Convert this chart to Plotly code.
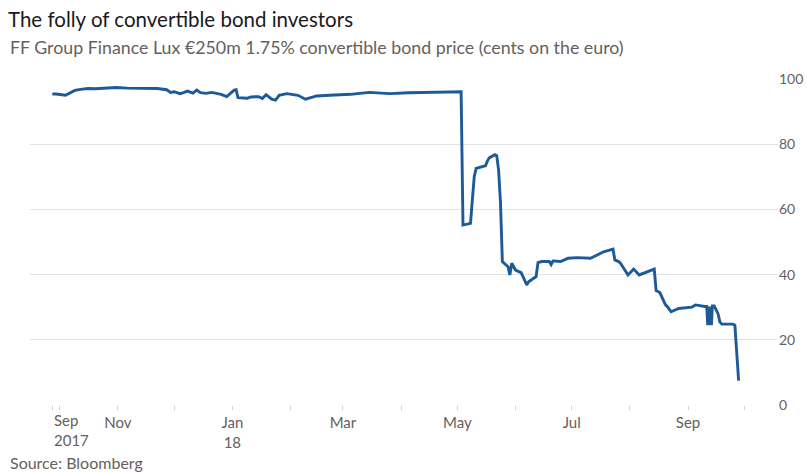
import plotly.graph_objects as go

# ---- data ----
dates = [
    "2017-09-27", "2017-09-29", "2017-10-04", "2017-10-09", "2017-10-12", "2017-10-16",
    "2017-10-20", "2017-10-26", "2017-10-31", "2017-11-06", "2017-11-13", "2017-11-17",
    "2017-11-22", "2017-11-27", "2017-11-29", "2017-12-01", "2017-12-04", "2017-12-06",
    "2017-12-08", "2017-12-11", "2017-12-13", "2017-12-15", "2017-12-18", "2017-12-21",
    "2017-12-26", "2017-12-29", "2018-01-02", "2018-01-03", "2018-01-04", "2018-01-09",
    "2018-01-11", "2018-01-15", "2018-01-17", "2018-01-19", "2018-01-22", "2018-01-24",
    "2018-01-26", "2018-01-30", "2018-02-05", "2018-02-09", "2018-02-15", "2018-02-22",
    "2018-03-05", "2018-03-15", "2018-03-26", "2018-04-05", "2018-04-16", "2018-04-27",
    "2018-05-03", "2018-05-04", "2018-05-08", "2018-05-09", "2018-05-10", "2018-05-11",
    "2018-05-14", "2018-05-16", "2018-05-17", "2018-05-18", "2018-05-21", "2018-05-22",
    "2018-05-23", "2018-05-24", "2018-05-25", "2018-05-28", "2018-05-29", "2018-05-30",
    "2018-06-01", "2018-06-04", "2018-06-05", "2018-06-07", "2018-06-08", "2018-06-12",
    "2018-06-13", "2018-06-15", "2018-06-19", "2018-06-20", "2018-06-21", "2018-06-25",
    "2018-06-29", "2018-07-04", "2018-07-11", "2018-07-18", "2018-07-23", "2018-07-24",
    "2018-07-26", "2018-07-27", "2018-07-31", "2018-08-03", "2018-08-06", "2018-08-10",
    "2018-08-14", "2018-08-15", "2018-08-17", "2018-08-20", "2018-08-21", "2018-08-23",
    "2018-08-27", "2018-09-03", "2018-09-05", "2018-09-10", "2018-09-11 00:00",
    "2018-09-11 12:00", "2018-09-12 00:00", "2018-09-12 12:00", "2018-09-13 00:00",
    "2018-09-13 12:00", "2018-09-14 00:00", "2018-09-15", "2018-09-17", "2018-09-18",
    "2018-09-19", "2018-09-25", "2018-09-26", "2018-09-28",
]
price = [
    95.4, 95.4, 95.0, 96.5, 96.8, 97.1,
    97.0, 97.3, 97.4, 97.2, 97.1, 97.2,
    97.1, 96.7, 95.9, 96.1, 95.5, 95.8,
    96.3, 95.7, 96.6, 95.8, 95.6, 95.9,
    95.3, 94.6, 96.6, 96.7, 94.3, 94.1,
    94.5, 94.6, 94.0, 95.2, 93.8, 93.5,
    95.0, 95.5, 95.0, 93.8, 94.8, 95.0,
    95.3, 95.9, 95.5, 95.8, 96.0, 96.1,
    96.1, 55.2, 55.7, 63.0, 70.0, 72.6,
    73.1, 73.4, 74.8, 75.8, 76.8, 76.5,
    72.0, 62.0, 44.0, 42.4, 39.9, 43.5,
    41.4, 40.6, 39.4, 36.8, 37.8, 39.4,
    43.7, 44.0, 44.0, 43.1, 44.2, 44.0,
    45.0, 45.2, 45.0, 47.0, 47.8, 44.5,
    44.0, 43.5, 39.9, 41.7, 39.9, 40.7,
    41.7, 35.1, 34.5, 30.7, 30.2, 28.6,
    29.6, 30.0, 30.7, 30.2, 30.2,
    24.5, 30.2, 24.5, 30.2,
    24.5, 30.4, 30.4, 28.0, 25.5,
    24.8, 24.8, 24.5, 7.5,
]

x_tick_vals = ["2017-11-01", "2018-01-01", "2018-03-01", "2018-05-01", "2018-07-01", "2018-09-01"]
x_tick_text = ["Nov", "Jan<br>18", "Mar", "May", "Jul", "Sep"]
first_label = "Sep<br>2017"
y_tick_vals = [0, 20, 40, 60, 80, 100]

title = "The folly of convertible bond investors"
subtitle = "FF Group Finance Lux €250m 1.75% convertible bond price (cents on the euro)"
source = "Source: Bloomberg"

# ---- styling ----
FONT = "Lato"
GREY = "#66605c"
GRID = "#e3e3e3"
LINE = "#1d5a97"

W, H = 807, 472
ML, MR, MT, MB = 30, 29, 79, 67
plot_w = W - ML - MR
plot_h = H - MT - MB

fig = go.Figure()
fig.add_trace(go.Scatter(
    x=dates, y=price, mode="lines",
    line=dict(color=LINE, width=2.9),
    hoverinfo="x+y", showlegend=False,
))

fig.update_layout(
    width=W, height=H,
    margin=dict(l=ML, r=MR, t=MT, b=MB, pad=0, autoexpand=False),
    paper_bgcolor="white", plot_bgcolor="white",
    font=dict(family=FONT, color=GREY, size=14),
    xaxis=dict(
        type="date", automargin=False,
        range=["2017-09-15 02:00", "2018-10-19"],
        tickvals=[dates[0]] + x_tick_vals,
        ticktext=[""] + x_tick_text,
        ticks="outside", ticklen=4, tickcolor="#cfcfcf", tickwidth=1,
        showgrid=False, zeroline=False, showline=False,
        tickfont=dict(family=FONT, size=15, color=GREY),
        minor=dict(ticks="outside", ticklen=4, tickcolor="#cfcfcf", dtick="M1",
                   tick0="2017-10-01", showgrid=False),
        fixedrange=True,
    ),
    yaxis=dict(
        side="right", automargin=False,
        range=[0, 100],
        tickvals=y_tick_vals,
        showgrid=True, gridcolor=GRID, gridwidth=1,
        zeroline=False, showline=False, ticks="",
        tickfont=dict(family=FONT, size=14, color=GREY),
        fixedrange=True,
    ),
    title=dict(
        text=title, x=8 / W, xanchor="left", xref="container",
        y=1 - 20 / H, yanchor="middle", yref="container",
        font=dict(family=FONT, size=20.5, color="#1a1a1a"),
    ),
)

fig.add_annotation(
    text=subtitle, xref="paper", yref="paper",
    x=(8 - ML) / plot_w, y=1 + (MT - 47) / plot_h,
    xanchor="left", yanchor="middle", showarrow=False,
    font=dict(family=FONT, size=17.8, color=GREY),
)
fig.add_annotation(
    text=source, xref="paper", yref="paper",
    x=(8 - ML) / plot_w, y=-(462 - (H - MB)) / plot_h,
    xanchor="left", yanchor="middle", showarrow=False,
    font=dict(family=FONT, size=16, color=GREY),
)
fig.add_annotation(
    text=first_label, xref="x", yref="paper",
    x=dates[0], y=-(409 - (H - MB)) / plot_h,
    xanchor="left", yanchor="top", align="left", showarrow=False,
    font=dict(family=FONT, size=15, color=GREY),
)

fig.write_html("out.html", config={"displayModeBar": False})
